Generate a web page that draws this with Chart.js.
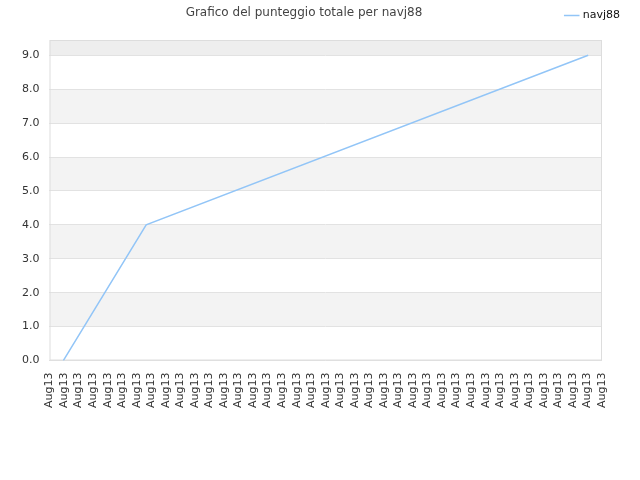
<!DOCTYPE html>
<html>
<head>
<meta charset="utf-8">
<script src="https://cdn.jsdelivr.net/npm/chart.js@4"></script>
<style>
  body { margin: 0; background: #fff; }
  #wrap { position: relative; width: 640px; height: 480px; }
  #title {
    position: absolute; top: 5px; left: 0; width: 608px;
    text-align: center; font: 12px "DejaVu Sans", sans-serif; color: #444;
  }
</style>
</head>
<body>
<div id="wrap">
  <canvas id="scoreChart"></canvas>
  <div id="title">Grafico del punteggio totale per navj88</div>
</div>
<script>
// tick labels shown under the plot
const tickLabels = new Array(39).fill('Aug13');
// days the score was sampled
const pointDays = new Array(20).fill('Aug13');
// total score, only the values readable off the picture
const scoreValues = [0, null, null, 4, null, null, null, null, null, null,
  null, null, null, null, null, null, null, null, null, 9];

const yMin = 0;
const yMax = 9.45;

// alternating grey bands + frame round the plot area
const bandsPlugin = {
  id: 'bands',
  beforeInit(chart) {
    // leave a bit more room under the legend
    const fit = chart.legend.fit;
    chart.legend.fit = function() {
      fit.bind(chart.legend)();
      this.height += 9;
    };
  },
  afterLayout(chart) {
    // push the legend into the right corner
    chart.legend.left += 28;
    chart.legend.right += 28;
  },
  beforeDraw(chart) {
    const { ctx, chartArea, scales } = chart;
    const y = scales.y;
    ctx.save();
    for (let v = 0; v < yMax; v++) {
      if (v % 2 === 0) continue;
      const top = y.getPixelForValue(Math.min(v + 1, yMax));
      const bottom = y.getPixelForValue(v);
      ctx.fillStyle = v + 1 > yMax ? '#eeeeee' : '#f3f3f3';
      ctx.fillRect(chartArea.left, top, chartArea.right - chartArea.left, bottom - top);
    }
    ctx.restore();
  },
  beforeDatasetsDraw(chart) {
    const { ctx, chartArea } = chart;
    ctx.save();
    ctx.strokeStyle = '#dddddd';
    ctx.lineWidth = 1;
    ctx.strokeRect(chartArea.left + 0.5, chartArea.top + 0.5,
      chartArea.right - chartArea.left - 1, chartArea.bottom - chartArea.top - 1);
    ctx.restore();
  }
};

const ctx = document.getElementById('scoreChart').getContext('2d');
new Chart(ctx, {
  type: 'line',
  data: {
    datasets: [
      {
        label: 'navj88',
        data: scoreValues,
        xAxisID: 'x',
        borderColor: '#92c5f7',
        backgroundColor: '#92c5f7',
        borderWidth: 1.5,
        pointRadius: 0,
        spanGaps: true,
        tension: 0
      }
    ]
  },
  options: {
    responsive: true,
    maintainAspectRatio: false,
    animation: false,
    layout: {
      padding: { left: 12, right: 38, top: 0, bottom: 68 }
    },
    scales: {
      x: {
        type: 'category',
        labels: pointDays,
        offset: true,
        display: false
      },
      xTicks: {
        type: 'category',
        position: 'bottom',
        labels: tickLabels,
        offset: false,
        grid: { display: false },
        border: { display: false },
        ticks: {
          autoSkip: false,
          maxRotation: 90,
          minRotation: 90,
          padding: 4,
          color: '#333',
          font: { family: 'DejaVu Sans', size: 11 }
        }
      },
      y: {
        min: yMin,
        max: yMax,
        border: { display: false },
        grid: {
          color: '#e2e2e2',
          drawTicks: false
        },
        ticks: {
          stepSize: 1,
          includeBounds: false,
          padding: 10,
          color: '#333',
          font: { family: 'DejaVu Sans', size: 11 },
          callback: function(value) {
            return Number(value).toFixed(1);
          }
        }
      }
    },
    plugins: {
      legend: {
        display: true,
        position: 'top',
        align: 'end',
        labels: {
          usePointStyle: true,
          pointStyle: 'line',
          boxWidth: 12,
          padding: 10,
          color: '#111',
          font: { family: 'DejaVu Sans', size: 11 }
        }
      },
      tooltip: { enabled: false }
    }
  },
  plugins: [bandsPlugin]
});
</script>
</body>
</html>
